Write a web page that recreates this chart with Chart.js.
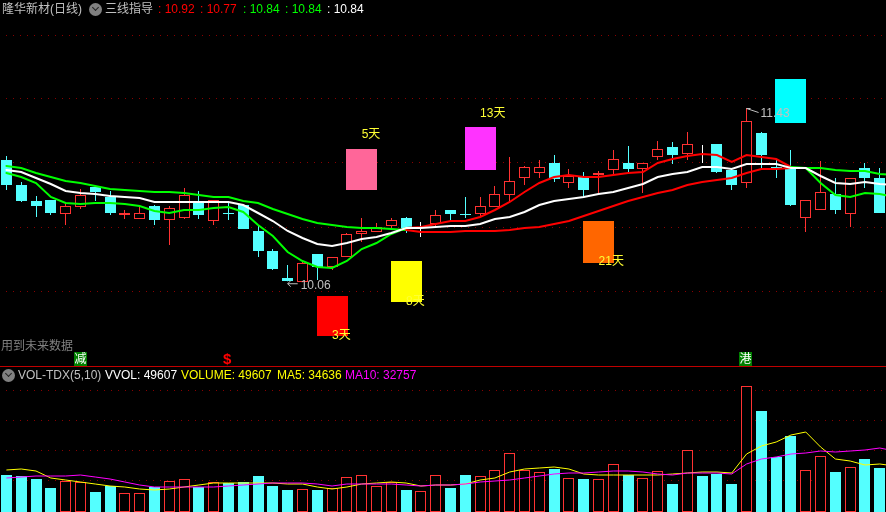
<!DOCTYPE html>
<html>
<head>
<meta charset="utf-8">
<title>隆华新材</title>
<script src="https://cdn.jsdelivr.net/npm/chart.js@4"></script>
<style>
html, body { margin: 0; background: #000; width: 886px; height: 512px; overflow: hidden; }
body { position: relative; font: 12px 'Liberation Sans', 'Noto Sans CJK SC', sans-serif; }
canvas { position: absolute; left: -1px; }
#priceChart { top: 0; }
#volChart { top: 366px; }
.t { position: absolute; white-space: pre; line-height: 14px; height: 14px; }
.grey { color: #c0c0c0; }
.icon { position: absolute; width: 13px; height: 13px; border-radius: 50%; background: #808080; }
.icon:after { content: ''; position: absolute; left: 4px; top: 2px; width: 4px; height: 4px; border: solid #222; border-width: 0 1px 1px 0; transform: rotate(45deg); }
.tag { position: absolute; width: 13px; height: 14px; line-height: 14px; top: 352px; background: #008000; color: #fff; text-align: center; }
#sep { position: absolute; left: 0; top: 366px; width: 886px; height: 1px; background: #c00000; }
</style>
</head>
<body>
<canvas id="priceChart" width="903" height="366" style="width:903px;height:366px"></canvas>
<canvas id="volChart" width="903" height="146" style="width:903px;height:146px"></canvas>
<div id="sep"></div>

<span class="t grey" style="left:2px;top:2px">隆华新材(日线)</span>
<div class="icon" style="left:89px;top:3px"></div>
<span class="t grey" style="left:105px;top:2px">三线指导</span>
<span class="t" style="left:158px;top:2px;color:#ff0000">: 10.92</span>
<span class="t" style="left:200px;top:2px;color:#ff0000">: 10.77</span>
<span class="t" style="left:243px;top:2px;color:#00ff00">: 10.84</span>
<span class="t" style="left:285px;top:2px;color:#00ff00">: 10.84</span>
<span class="t" style="left:327px;top:2px;color:#ffffff">: 10.84</span>

<span class="t" style="left:1px;top:339px;color:#808080">用到未来数据</span>
<span class="tag" style="left:74px">减</span>
<span class="t" style="left:223px;top:352px;color:#ff0000;font-weight:bold;font-size:15px">$</span>
<span class="tag" style="left:739px">港</span>

<div class="icon" style="left:2px;top:369px"></div>
<span class="t grey" style="left:18px;top:368px">VOL-TDX(5,10)</span>
<span class="t" style="left:105px;top:368px;color:#ffffff">VVOL: 49607</span>
<span class="t" style="left:181px;top:368px;color:#ffff00">VOLUME: 49607</span>
<span class="t" style="left:277px;top:368px;color:#ffff00">MA5: 34636</span>
<span class="t" style="left:345px;top:368px;color:#ff00ff">MA10: 32757</span>

<script>
const opens = [11.03,10.83,10.702,10.71,10.598,10.654,10.814,10.734,10.59,10.558,10.662,10.55,10.566,10.686,10.542,10.606,10.67,10.462,10.302,10.086,10.054,10.278,10.174,10.254,10.438,10.454,10.502,10.566,10.486,10.518,10.63,10.598,10.598,10.654,10.75,10.886,10.926,11.006,10.846,10.894,10.91,10.95,11.006,10.958,11.054,11.134,11.078,11.078,11.158,10.95,10.846,11.246,10.974,10.958,10.566,10.63,10.758,10.598,10.966,10.886];
const closes = [10.83,10.702,10.662,10.606,10.662,10.75,10.774,10.606,10.606,10.606,10.55,10.646,10.75,10.59,10.71,10.598,10.478,10.302,10.158,10.062,10.206,10.174,10.254,10.438,10.462,10.494,10.55,10.486,10.486,10.59,10.598,10.59,10.662,10.758,10.862,10.974,10.974,10.878,10.902,10.79,10.926,11.038,10.958,11.006,11.118,11.07,11.158,11.07,10.934,10.83,11.342,11.07,10.966,10.67,10.71,10.774,10.63,10.886,10.886,10.606];
const highs = [11.062,10.854,10.742,10.71,10.678,10.798,10.814,10.782,10.63,10.662,10.67,10.662,10.806,10.782,10.71,10.686,10.67,10.51,10.318,10.19,10.23,10.278,10.254,10.446,10.566,10.526,10.566,10.574,10.534,10.63,10.63,10.734,10.734,10.822,11.054,10.982,11.03,11.07,10.958,10.934,10.942,11.11,11.142,11.006,11.182,11.174,11.254,11.15,11.158,10.966,11.446,11.254,11.03,11.11,10.71,11.022,10.886,10.886,11.006,10.966];
const lows = [10.79,10.694,10.574,10.59,10.51,10.638,10.702,10.59,10.558,10.558,10.51,10.35,10.558,10.558,10.51,10.55,10.478,10.254,10.15,10.06,10.054,10.07,10.15,10.254,10.374,10.454,10.486,10.446,10.414,10.502,10.542,10.566,10.582,10.654,10.702,10.83,10.886,10.854,10.806,10.734,10.766,10.91,10.934,10.766,11.03,10.998,11.03,11.006,10.926,10.79,10.806,10.966,10.886,10.662,10.454,10.63,10.598,10.494,10.806,10.606];
const whiteDoji = [28, 47];
const lowNote = '10.06', highNote = '11.43';

const slowLine = [10.982,10.966,10.926,10.894,10.862,10.846,10.822,10.798,10.79,10.782,10.774,10.774,10.766,10.75,10.734,10.734,10.702,10.686,10.638,10.598,10.558,10.526,10.51,10.494,10.486,10.486,10.478,10.47,10.454,10.454,10.454,10.462,10.462,10.462,10.47,10.486,10.494,10.518,10.542,10.582,10.622,10.662,10.702,10.734,10.766,10.79,10.83,10.854,10.87,10.886,10.926,10.958,10.958,10.966,10.966,10.966,10.95,10.942,10.942,10.918,10.91];
const midLine = [10.95,10.934,10.886,10.838,10.782,10.766,10.758,10.742,10.734,10.726,10.694,10.694,10.694,10.694,10.694,10.694,10.67,10.606,10.542,10.462,10.406,10.358,10.342,10.366,10.398,10.414,10.446,10.486,10.486,10.494,10.502,10.502,10.518,10.558,10.574,10.614,10.67,10.702,10.718,10.734,10.758,10.774,10.806,10.838,10.894,10.918,10.934,10.974,10.974,10.958,10.998,10.998,10.998,10.966,10.966,10.902,10.846,10.838,10.854,10.838,10.83];
const fastLine = [10.926,10.894,10.846,10.734,10.686,10.678,10.686,10.686,10.678,10.662,10.622,10.606,10.63,10.63,10.646,10.654,10.614,10.51,10.422,10.294,10.222,10.174,10.166,10.222,10.318,10.366,10.438,10.486,10.494,10.518,10.542,10.542,10.574,10.63,10.694,10.774,10.846,10.894,10.91,10.894,10.894,10.91,10.926,10.934,11.006,11.038,11.062,11.078,11.07,11.014,11.07,11.054,11.038,10.974,10.966,10.846,10.75,10.734,10.766,10.758,10.734];

const boxIndex = [22, 24, 27, 32, 40, 53];
const boxLow = [9.622, 10.79, 9.894, 10.95, 10.206, 11.326];
const boxHigh = [9.942, 11.118, 10.222, 11.294, 10.542, 11.678];
const boxColors = ['#ff0000', '#ff6699', '#ffff00', '#ff33ff', '#ff6600', '#00ffff'];
const boxText = ['3天', '5天', '8天', '13天', '21天', ''];
const boxTextPrice = [9.622, 11.23, 9.894, 11.398, 10.214, 0];

const priceGrid = [12.03, 11.518, 11.006, 10.494, 9.982];

const volumes = [41699,40572,37191,27048,34937,33810,22540,29302,21413,21413,28175,34937,37191,28175,33810,32683,33810,40572,29302,24794,25921,24794,27048,39445,41699,29302,33810,24794,23667,41699,27048,41699,40572,47334,66493,47334,45080,48461,38318,37191,37191,54096,41699,38318,46207,31556,69874,40572,42826,31556,142002,113827,61985,85652,47334,63112,45080,50715,59731,49607];
const volMa5 = [47334,48461,46207,38318,36064,33810,31556,29302,28175,25921,24794,25921,28175,30429,32683,32683,32683,32683,32683,31556,31556,28175,25921,28175,31556,32683,33810,32683,29302,30429,30429,31556,36064,38318,45080,48461,49588,50715,48461,42826,41699,41699,41699,41699,41699,42826,43953,45080,45080,43953,65366,74382,78890,86779,90160,73255,59731,57477,52969,54096,51842];
const volMa10 = [38318,39445,40572,40572,40572,41699,39445,37191,33810,30429,28175,28175,28175,28175,28175,29302,30429,31556,32683,32683,32683,31556,29302,31556,31556,31556,31556,30429,29302,30429,30429,31556,33810,34937,36064,38318,40572,42826,43953,43953,45080,46207,46207,45080,42826,41699,43953,43953,43953,42826,54096,59731,61985,65366,66493,68747,67620,68747,69874,72128,68747];
const volGrid = [137494, 103684, 69874, 36064];

const days = slowLine.map((v, i) => i + 1);
const upRed = '#ff3232', downCyan = '#54ffff';
const isUp = i => closes[i] >= opens[i];

// keep bar edges on whole pixels
const snapBars = {
    id: 'snapBars',
    beforeDatasetsDraw(chart) {
        chart.getSortedVisibleDatasetMetas().forEach(meta => {
            if (meta.type !== 'bar') return;
            meta.data.forEach(el => { el.x = Math.floor(el.x) + 0.5; });
        });
    }
};

const priceNotes = {
    id: 'priceNotes',
    afterDatasetsDraw(chart) {
        const ctx = chart.ctx, x = chart.scales.x, y = chart.scales.y;
        ctx.save();
        ctx.font = "12px 'Liberation Sans', 'Noto Sans CJK SC'";
        ctx.textBaseline = 'middle';
        ctx.fillStyle = '#ffff33';
        boxIndex.forEach((d, i) => {
            if (boxText[i]) ctx.fillText(boxText[i], x.getPixelForValue(d), y.getPixelForValue(boxTextPrice[i]));
        });
        const lowX = x.getPixelForValue(19), lowY = y.getPixelForValue(lows[19]);
        const highX = x.getPixelForValue(50), highY = y.getPixelForValue(highs[50]);
        ctx.fillStyle = ctx.strokeStyle = '#c0c0c0';
        ctx.lineWidth = 1;
        ctx.beginPath();
        ctx.moveTo(lowX + 10, lowY + 2.5);
        ctx.lineTo(lowX, lowY + 2.5);
        ctx.moveTo(lowX + 3, lowY - 0.5);
        ctx.lineTo(lowX, lowY + 2.5);
        ctx.lineTo(lowX + 3, lowY + 5.5);
        ctx.moveTo(highX, highY + 0.5);
        ctx.lineTo(highX + 4, highY + 0.5);
        ctx.moveTo(highX, highY + 0.5);
        ctx.lineTo(highX + 12, highY + 4.5);
        ctx.stroke();
        ctx.fillText(lowNote, lowX + 13, lowY + 4);
        ctx.fillText(highNote, highX + 14, highY + 6);
        ctx.restore();
    }
};

const hiddenX = { display: false };
const dottedY = (min, max, lines) => ({
    min: min,
    max: max,
    afterBuildTicks: axis => { axis.ticks = lines.map(v => ({ value: v })); },
    ticks: { display: false },
    border: { display: false, dash: [1, 6] },
    grid: { color: '#8a0000', drawTicks: false }
});
const baseOptions = {
    responsive: false,
    animation: false,
    devicePixelRatio: 1,
    events: [],
    layout: { padding: 0 },
    plugins: { legend: { display: false }, tooltip: { enabled: false } }
};

const tripleLine = (values, colorAt) => ({
    type: 'line',
    data: values,
    order: 1,
    borderWidth: 2,
    borderColor: '#ffffff',
    pointRadius: 0,
    tension: 0,
    borderCapStyle: 'round',
    segment: { borderColor: colorAt }
});
const slowOrFastColor = c => c.p0DataIndex >= 27 && c.p0DataIndex < 53 ? '#ff0000' : '#00ff00';

new Chart(document.getElementById('priceChart'), {
    type: 'bar',
    plugins: [snapBars, priceNotes],
    data: {
        labels: days,
        datasets: [
            tripleLine(midLine, () => '#ffffff'),
            tripleLine(slowLine, slowOrFastColor),
            tripleLine(fastLine, slowOrFastColor),
            {
                data: days.map((d, i) => {
                    const k = boxIndex.indexOf(i);
                    return k < 0 ? null : [boxLow[k], boxHigh[k]];
                }),
                backgroundColor: days.map((d, i) => boxColors[boxIndex.indexOf(i)] || '#000'),
                barThickness: 31,
                inflateAmount: 0,
                grouped: false,
                order: 2
            },
            {
                data: opens.map((o, i) => [o, closes[i]]),
                backgroundColor: opens.map((o, i) => isUp(i) ? '#000000' : downCyan),
                borderColor: opens.map((o, i) => isUp(i) ? upRed : downCyan),
                borderWidth: 1,
                borderSkipped: false,
                barThickness: 11,
                inflateAmount: 0,
                grouped: false,
                order: 3
            },
            {
                data: lows.map((l, i) => [l, highs[i]]),
                backgroundColor: lows.map((l, i) => whiteDoji.includes(i) ? '#ffffff' : isUp(i) ? upRed : downCyan),
                barThickness: 1,
                inflateAmount: 0,
                grouped: false,
                order: 4
            }
        ]
    },
    options: Object.assign({}, baseOptions, {
        scales: { x: hiddenX, y: dottedY(9.382, 12.31, priceGrid) }
    })
});

new Chart(document.getElementById('volChart'), {
    type: 'bar',
    plugins: [snapBars],
    data: {
        labels: days,
        datasets: [
            { type: 'line', data: volMa10, order: 1, borderColor: '#ff00ff', borderWidth: 1, pointRadius: 0, tension: 0 },
            { type: 'line', data: volMa5, order: 2, borderColor: '#ffff00', borderWidth: 1, pointRadius: 0, tension: 0 },
            {
                data: volumes,
                backgroundColor: volumes.map((v, i) => isUp(i) ? '#000000' : downCyan),
                borderColor: volumes.map((v, i) => isUp(i) ? upRed : downCyan),
                borderWidth: 1,
                borderSkipped: false,
                barThickness: 11,
                inflateAmount: 0,
                order: 3
            }
        ]
    },
    options: Object.assign({}, baseOptions, {
        scales: { x: hiddenX, y: dottedY(0, 164542, volGrid) }
    })
});
</script>
</body>
</html>
